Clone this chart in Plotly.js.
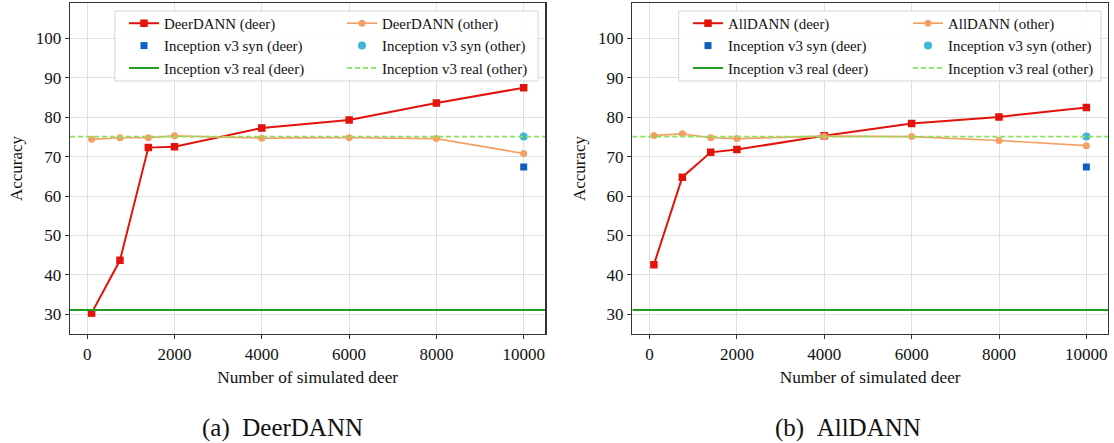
<!DOCTYPE html>
<html>
<head>
<meta charset="utf-8">
<script src="https://cdn.plot.ly/plotly-3.0.1.min.js"></script>
<style>html,body{margin:0;padding:0;background:#fff;}#chart{width:1114px;height:443px;}</style>
</head>
<body>
<div id="chart"></div>
<script>
// ---- data ----
const nSimulated = [100, 750, 1400, 2000, 4000, 6000, 8000, 10000];
const deerDannDeer = [30.3, 43.7, 72.3, 72.5, 77.3, 79.3, 83.6, 87.5];
const deerDannOther = [74.4, 74.8, 74.8, 75.3, 74.7, 74.8, 74.6, 70.8];
const allDannDeer = [42.6, 64.8, 71.1, 71.8, 75.3, 78.4, 80.1, 82.5];
const allDannOther = [75.4, 75.8, 74.8, 74.6, 75.2, 75.1, 74.1, 72.8];
const synX = [10000];
const synDeer = [67.4];
const synOther = [75.1];
const realDeer = 31.1;
const realOther = 75.1;
const xTicks = [0, 2000, 4000, 6000, 8000, 10000];
const yTicks = [30, 40, 50, 60, 70, 80, 90, 100];
const xRange = [-395, 10495];
const yRange = [25, 109];
const captions = ['(a)\u00a0\u00a0DeerDANN', '(b)\u00a0\u00a0AllDANN'];

// ---- styles ----
const FONT = 'Liberation Serif';
const C = {
  red: '#e3120b', orange: '#f4a062', blue: '#0f5fc0', cyan: '#3fb5d5',
  green: '#1f9e1f', lgreen: '#88e35c'
};

function panelTraces(name, deer, other, xa, ya, legA, legB) {
  return [
    {x: nSimulated, y: deer, name: name + ' (deer)', mode: 'lines+markers', xaxis: xa, yaxis: ya, legend: legA,
     line: {color: C.red, width: 2}, marker: {symbol: 'square', size: 7.5, color: C.red}},
    {x: synX, y: synDeer, name: 'Inception v3 syn (deer)', mode: 'markers', xaxis: xa, yaxis: ya, legend: legA,
     marker: {symbol: 'square', size: 7, color: C.blue}},
    {x: xRange, y: [realDeer, realDeer], name: 'Inception v3 real (deer)', mode: 'lines', xaxis: xa, yaxis: ya, legend: legA,
     line: {color: C.green, width: 2}},
    {x: nSimulated, y: other, name: name + ' (other)', mode: 'lines+markers', xaxis: xa, yaxis: ya, legend: legB,
     line: {color: C.orange, width: 1.7}, marker: {symbol: 'circle', size: 7, color: C.orange}},
    {x: synX, y: synOther, name: 'Inception v3 syn (other)', mode: 'markers', xaxis: xa, yaxis: ya, legend: legB,
     marker: {symbol: 'circle', size: 8, color: C.cyan}},
    {x: xRange, y: [realOther, realOther], name: 'Inception v3 real (other)', mode: 'lines', xaxis: xa, yaxis: ya, legend: legB,
     line: {color: C.lgreen, width: 1.8, dash: '5px,3px'}}
  ];
}

const traces = [].concat(
  panelTraces('DeerDANN', deerDannDeer, deerDannOther, 'x', 'y', 'legend', 'legend2'),
  panelTraces('AllDANN', allDannDeer, allDannOther, 'x2', 'y2', 'legend3', 'legend4')
);

function xAxis(domain, anchor) {
  return {
    domain: domain, anchor: anchor, range: xRange, tickvals: xTicks, ticktext: xTicks.map(String),
    showline: true, mirror: true, linecolor: '#333', linewidth: 1.3,
    ticks: 'outside', ticklen: 4, tickwidth: 1, tickcolor: '#333',
    showgrid: true, gridcolor: '#e0e0e0', gridwidth: 1, zeroline: false,
    tickfont: {family: FONT, size: 17, color: '#111'},
    title: {text: 'Number of simulated deer', font: {family: FONT, size: 17.3, color: '#111'}, standoff: 8}
  };
}
function yAxis(anchor) {
  return {
    anchor: anchor, range: yRange, tickvals: yTicks, ticktext: yTicks.map(String),
    showline: true, mirror: true, linecolor: '#333', linewidth: 1.3,
    ticks: 'outside', ticklen: 4, tickwidth: 1, tickcolor: '#333',
    showgrid: true, gridcolor: '#e0e0e0', gridwidth: 1, zeroline: false,
    tickfont: {family: FONT, size: 17, color: '#111'},
    title: {text: 'Accuracy', font: {family: FONT, size: 17, color: '#111'}, standoff: 8}
  };
}
function legendCol(x) {
  return {x: x, y: 0.9878, xanchor: 'left', yanchor: 'top', orientation: 'v',
          bgcolor: 'rgba(0,0,0,0)', borderwidth: 0,
          font: {family: FONT, size: 14.9, color: '#111'}, tracegroupgap: 0};
}
function legendBox(x0, x1) {
  return {type: 'rect', xref: 'paper', yref: 'paper', x0: x0, x1: x1, y0: 0.7644, y1: 0.9758,
          layer: 'above', fillcolor: 'rgba(255,255,255,0.85)', line: {color: '#d5d5d5', width: 1}};
}

const layout = {
  width: 1114, height: 443,
  margin: {l: 70, r: 6, t: 3, b: 109},
  paper_bgcolor: '#fff', plot_bgcolor: '#fff',
  font: {family: FONT, color: '#111'},
  showlegend: true,
  xaxis: xAxis([0, 0.4579], 'y'),
  yaxis: yAxis('x'),
  xaxis2: xAxis([0.5417, 1], 'y2'),
  yaxis2: yAxis('x2'),
  legend: legendCol((124 - 70) / 1038),
  legend2: legendCol((342 - 70) / 1038),
  legend3: legendCol((688 - 70) / 1038),
  legend4: legendCol((908 - 70) / 1038),
  shapes: [legendBox(0.0432, 0.4509), legendBox(0.5864, 0.9933)],
  annotations: [
    {text: captions[0], xref: 'paper', yref: 'paper', x: 0.2047, y: -0.2831, xanchor: 'center', yanchor: 'middle',
     showarrow: false, font: {family: FONT, size: 25, color: '#111'}},
    {text: captions[1], xref: 'paper', yref: 'paper', x: 0.7495, y: -0.2831, xanchor: 'center', yanchor: 'middle',
     showarrow: false, font: {family: FONT, size: 25, color: '#111'}}
  ]
};

Plotly.newPlot('chart', traces, layout, {displayModeBar: false, staticPlot: true});
</script>
</body>
</html>
